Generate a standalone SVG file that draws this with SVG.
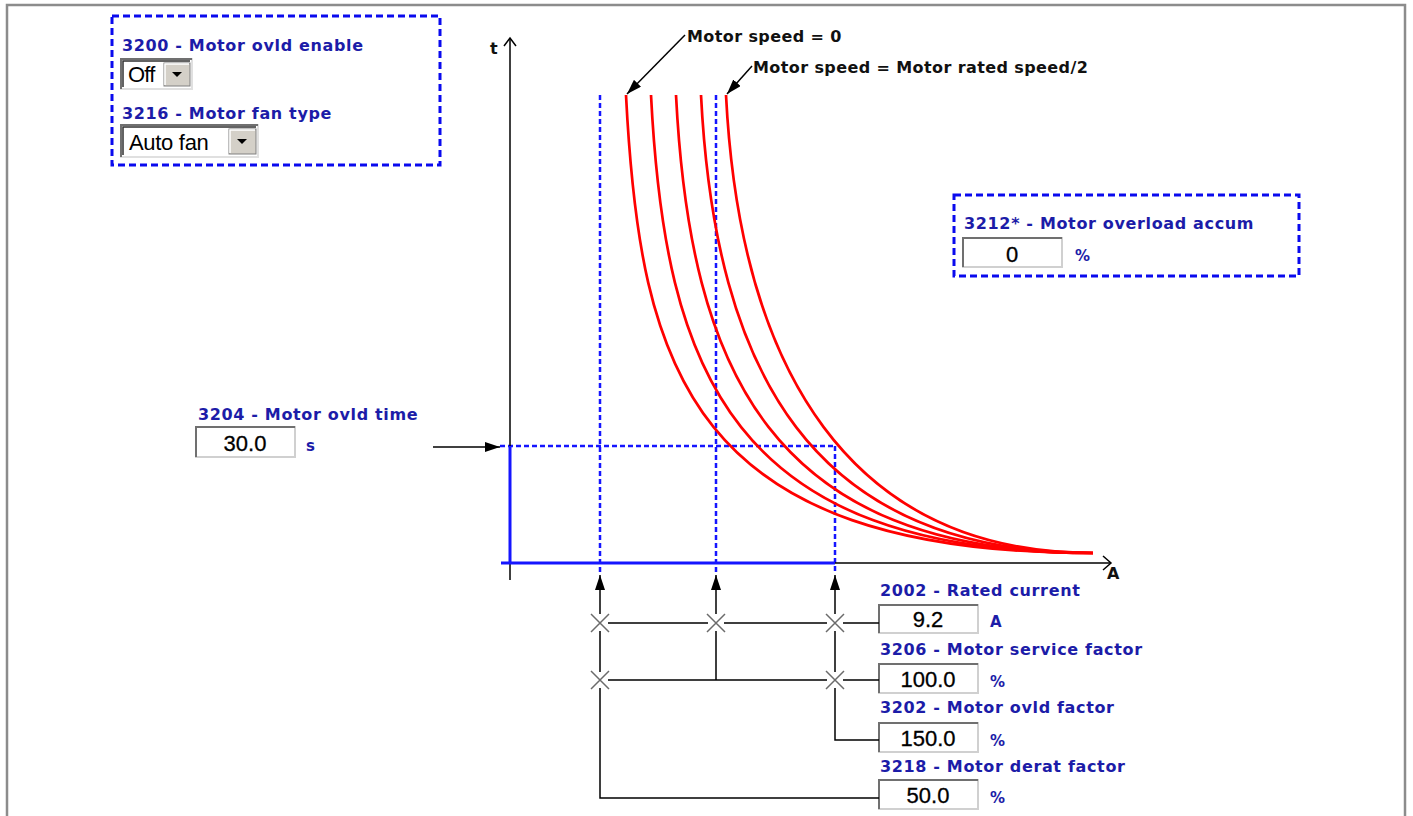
<svg xmlns="http://www.w3.org/2000/svg" width="1413" height="816" viewBox="0 0 1413 816">
<style>
.lbl{font-family:"DejaVu Sans",Verdana,sans-serif;font-weight:bold;font-size:16px;fill:#1c1ca8;letter-spacing:0.65px}
.unit{font-family:"DejaVu Sans",Verdana,sans-serif;font-weight:bold;font-size:15px;fill:#1c1ca8}
.ann{font-family:"DejaVu Sans",Verdana,sans-serif;font-weight:bold;font-size:16px;fill:#111;letter-spacing:0.4px}
.val{font-family:"Liberation Sans",Arial,sans-serif;font-size:22px;fill:#000;stroke:#000;stroke-width:0.3;text-anchor:middle}
.inp{fill:#fff;stroke:#d0d0d0;stroke-width:2}
.inpd{fill:none;stroke:#707070;stroke-width:2}
.box{fill:none;stroke:#0a0aee;stroke-width:3;stroke-dasharray:7 4}
.bdash{fill:none;stroke:#1515ff;stroke-width:2.5;stroke-dasharray:5 3}
.curve{fill:none;stroke:#ff0000;stroke-width:2.7}
.ln{fill:none;stroke:#000;stroke-width:1.5}
.xx{fill:none;stroke:#6b6b6b;stroke-width:1.5}
.btn{fill:#d4d0c8;stroke:#808080;stroke-width:1}
</style>
<defs>
<marker id="ah" viewBox="0 0 15 10" refX="15" refY="5" markerWidth="15" markerHeight="10" markerUnits="userSpaceOnUse" orient="auto"><path d="M0,0 L15,5 L0,10 z" fill="#000"/></marker>
<path id="cross" d="M-9,-9 L9,9 M-9,9 L9,-9" class="xx"/>
</defs>
<rect width="1413" height="816" fill="#fff"/>
<rect x="7" y="5" width="1398" height="840" fill="none" stroke="#8c8c8c" stroke-width="2.5"/>

<g id="enable-box">
<rect class="box" x="112" y="16" width="328" height="149"/>
<text class="lbl" x="122" y="51">3200 - Motor ovld enable</text>
<rect x="121" y="59" width="71" height="30" fill="#fff" stroke="#e0e0e0" stroke-width="2"/>
<path d="M121,89 V59 H192" fill="none" stroke="#707070" stroke-width="2"/>
<path d="M123,87 V61 H190" fill="none" stroke="#303030" stroke-width="1.5"/>
<rect class="btn" x="164" y="63" width="26" height="23"/>
<path d="M165,85 V64 H189" fill="none" stroke="#fff" stroke-width="1.5"/>
<path d="M172,72 H182 L177,77 z" fill="#000"/>
<text x="128" y="82" font-family="Liberation Sans,Arial,sans-serif" font-size="22" letter-spacing="-0.8" fill="#000">Off</text>
<text class="lbl" x="122" y="119">3216 - Motor fan type</text>
<rect x="121" y="125" width="137" height="32" fill="#fff" stroke="#e0e0e0" stroke-width="2"/>
<path d="M121,157 V125 H258" fill="none" stroke="#707070" stroke-width="2"/>
<path d="M123,155 V127 H256" fill="none" stroke="#303030" stroke-width="1.5"/>
<rect class="btn" x="229" y="129" width="27" height="25"/>
<path d="M230,153 V130 H255" fill="none" stroke="#fff" stroke-width="1.5"/>
<path d="M237,139 H247 L242,144 z" fill="#000"/>
<text x="129" y="150" font-family="Liberation Sans,Arial,sans-serif" font-size="22" letter-spacing="-0.3" fill="#000">Auto fan</text>
</g>

<g id="accum-box">
<rect class="box" x="954" y="195" width="345" height="81"/>
<text class="lbl" x="964" y="229">3212* - Motor overload accum</text>
<rect class="inp" x="963" y="238" width="99" height="29"/>
<path class="inpd" d="M963,267 V238 H1062"/>
<text class="val" x="1012" y="262">0</text>
<text class="unit" x="1075" y="261">%</text>
</g>

<g id="time-input">
<text class="lbl" x="198" y="420">3204 - Motor ovld time</text>
<rect class="inp" x="196" y="427" width="99" height="30"/>
<path class="inpd" d="M196,457 V427 H295"/>
<text class="val" x="245" y="451">30.0</text>
<text class="unit" x="306" y="451">s</text>
</g>

<g id="chart">
<line class="bdash" x1="600" y1="95" x2="600" y2="572"/>
<line class="bdash" x1="716" y1="95" x2="716" y2="572"/>
<line class="bdash" x1="835" y1="446" x2="835" y2="572"/>
<line class="bdash" x1="500" y1="446" x2="835" y2="446"/>
<path class="curve" d="M626,95 C640,370 690,553 1093,553"/>
<path class="curve" d="M651,95 C665,370 730,553 1093,553"/>
<path class="curve" d="M676,95 C690,370 770,553 1093,553"/>
<path class="curve" d="M701,95 C715,370 810,553 1093,553"/>
<path class="curve" d="M726,95 C740,370 850,553 1093,553"/>
<line class="ln" x1="510" y1="38" x2="510" y2="446"/>
<path class="ln" d="M504,46 L510,38 L516,46"/>
<line x1="510" y1="446" x2="510" y2="563" stroke="#1515ff" stroke-width="3"/>
<line class="ln" x1="510" y1="563" x2="510" y2="580"/>
<line x1="501" y1="563" x2="835" y2="563" stroke="#1515ff" stroke-width="3"/>
<line class="ln" x1="835" y1="563" x2="1110" y2="563"/>
<path class="ln" d="M1103,556 L1111,563 L1103,570"/>
<text class="ann" x="490" y="54" letter-spacing="0">t</text>
<text class="ann" x="1107" y="579" letter-spacing="0">A</text>
<text class="ann" x="687" y="42">Motor speed = 0</text>
<text class="ann" x="753" y="73" letter-spacing="0">Motor speed = Motor rated speed/2</text>
</g>

<g id="params">
<text class="lbl" x="880" y="596">2002 - Rated current</text>
<rect class="inp" x="879" y="605" width="99" height="28"/>
<path class="inpd" d="M879,633 V605 H978"/>
<text class="val" x="928" y="627">9.2</text>
<text class="unit" x="990" y="627">A</text>
<text class="lbl" x="880" y="655">3206 - Motor service factor</text>
<rect class="inp" x="879" y="664" width="99" height="29"/>
<path class="inpd" d="M879,693 V664 H978"/>
<text class="val" x="928" y="687">100.0</text>
<text class="unit" x="990" y="687">%</text>
<text class="lbl" x="880" y="713">3202 - Motor ovld factor</text>
<rect class="inp" x="879" y="723" width="99" height="29"/>
<path class="inpd" d="M879,752 V723 H978"/>
<text class="val" x="928" y="746">150.0</text>
<text class="unit" x="990" y="746">%</text>
<text class="lbl" x="880" y="772">3218 - Motor derat factor</text>
<rect class="inp" x="879" y="780" width="99" height="29"/>
<path class="inpd" d="M879,809 V780 H978"/>
<text class="val" x="928" y="803">50.0</text>
<text class="unit" x="990" y="803">%</text>
</g>

<g id="connectors">
<line class="ln" x1="685" y1="35" x2="627" y2="94" marker-end="url(#ah)"/>
<line class="ln" x1="752" y1="66" x2="727" y2="94" marker-end="url(#ah)"/>
<line class="ln" x1="433" y1="447" x2="500" y2="447" marker-end="url(#ah)"/>
<line class="ln" x1="600" y1="614" x2="600" y2="575" marker-end="url(#ah)"/>
<line class="ln" x1="716" y1="614" x2="716" y2="575" marker-end="url(#ah)"/>
<line class="ln" x1="835" y1="614" x2="835" y2="575" marker-end="url(#ah)"/>
<path class="ln" d="M608,623 H708 M724,623 H827 M843,623 H879"/>
<path class="ln" d="M608,680 H827 M843,680 H879 M716,631 V680"/>
<path class="ln" d="M835,631 V672 M835,688 V740 H879"/>
<path class="ln" d="M600,631 V672 M600,688 V798 H879"/>
<use href="#cross" x="600" y="623"/>
<use href="#cross" x="716" y="623"/>
<use href="#cross" x="835" y="623"/>
<use href="#cross" x="600" y="680"/>
<use href="#cross" x="835" y="680"/>
</g>
</svg>
